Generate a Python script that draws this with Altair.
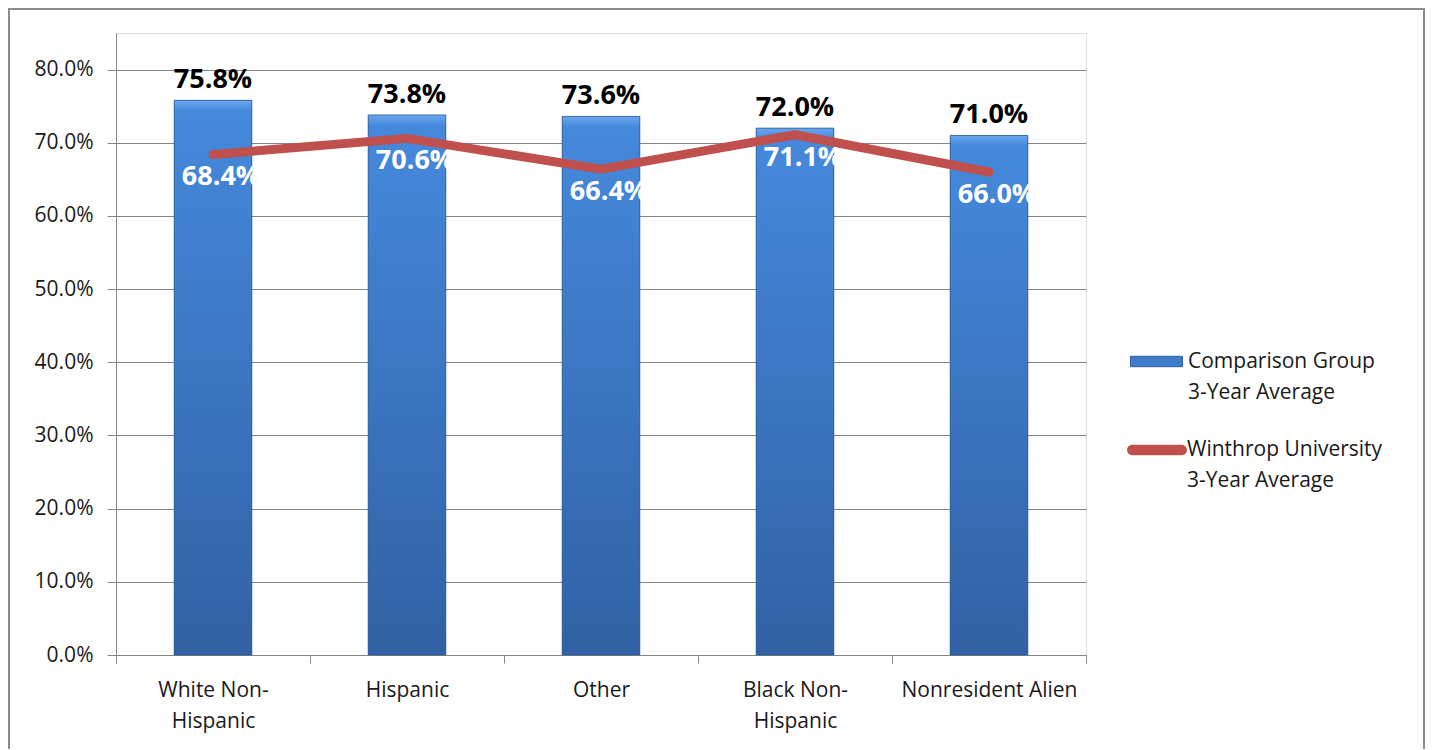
import altair as alt
import pandas as pd

categories = ["White Non-Hispanic", "Hispanic", "Other", "Black Non-Hispanic", "Nonresident Alien"]
comparison = [0.758, 0.738, 0.736, 0.720, 0.710]
winthrop = [0.684, 0.706, 0.664, 0.711, 0.660]
bar_name = "Comparison Group|3-Year Average"
line_name = "Winthrop University|3-Year Average"
y_ticks = [0.0, 0.1, 0.2, 0.3, 0.4, 0.5, 0.6, 0.7, 0.8]

df = pd.DataFrame({"category": categories, "comparison": comparison, "winthrop": winthrop})

FONT = "Open Sans"
GRAY = "#868686"
W, H = 970, 622

x_enc = alt.X(
    "category:N",
    sort=categories,
    title=None,
    scale=alt.Scale(paddingInner=0, paddingOuter=0),
    axis=alt.Axis(
        tickBand="extent",
        labelAngle=0,
        labelFont=FONT,
        labelFontSize=21,
        labelColor="#1a1a1a",
        labelPadding=16,
        labelLineHeight=31,
        labelExpr="split(replace(datum.label, 'Non-', 'Non-\\n'), '\\n')",
        domainColor=GRAY,
        tickColor=GRAY,
        tickSize=8,
        grid=False,
    ),
)

y_scale = alt.Scale(domain=[0, 0.85], nice=False)

base = alt.Chart(df)

bars_legend = base.mark_bar(width=alt.RelativeBandSize(0.4)).encode(
    x=x_enc,
    y=alt.Y(
        "comparison:Q",
        scale=y_scale,
        title=None,
        axis=alt.Axis(
            values=y_ticks,
            format=".1%",
            labelFont=FONT,
            labelFontSize=21,
            labelColor="#1a1a1a",
            labelPadding=14,
            tickSize=9,
            tickColor=GRAY,
            domainColor=GRAY,
            gridColor=GRAY,
            grid=True,
        ),
    ),
    fill=alt.Fill(
        "bar:N",
        scale=alt.Scale(domain=[bar_name], range=["#3F7CCB"]),
        legend=alt.Legend(
            title=None,
            orient="none",
            legendX=1014,
            legendY=302,
            symbolType="M-1,-0.2L1,-0.2L1,0.2L-1,0.2Z",
            symbolSize=2704,
            symbolStrokeColor="#2E5F9E",
            symbolStrokeWidth=1,
            labelFont=FONT,
            labelFontSize=21,
            labelColor="#1a1a1a",
            labelLimit=400,
            labelOffset=5,
            labelExpr="split(datum.label, '|')",
        ),
    ),
).transform_calculate(bar=f"'{bar_name}'")

bars = base.mark_bar(
    width=alt.RelativeBandSize(0.4),
    stroke="#2C5A94",
    strokeWidth=0.8,
    color=alt.Gradient(
        gradient="linear",
        x1=0, x2=0, y1=0, y2=1,
        stops=[
            alt.GradientStop(offset=0, color="#6AA6EE"),
            alt.GradientStop(offset=0.02, color="#4589DC"),
            alt.GradientStop(offset=1, color="#3161A4"),
        ],
    ),
).encode(x=x_enc, y=alt.Y("comparison:Q", scale=y_scale))

line = base.mark_line(strokeWidth=9, strokeCap="round", strokeJoin="round").encode(
    x=x_enc,
    y=alt.Y("winthrop:Q", scale=y_scale),
    stroke=alt.Stroke(
        "ln:N",
        scale=alt.Scale(domain=[line_name], range=["#C0504D"]),
        legend=alt.Legend(
            title=None,
            orient="none",
            legendX=1014,
            legendY=390,
            symbolType=(
                "M-0.92,-0.19L0.92,-0.19A0.19,0.19 0 0 1 0.92,0.19"
                "L-0.92,0.19A0.19,0.19 0 0 1 -0.92,-0.19Z"
            ),
            symbolSize=2916,
            symbolFillColor="#C0504D",
            symbolStrokeWidth=0,
            labelFont=FONT,
            labelFontSize=21,
            labelColor="#1a1a1a",
            labelLimit=400,
            labelOffset=3,
            labelExpr="split(datum.label, '|')",
        ),
    ),
).transform_calculate(ln=f"'{line_name}'")

bar_text = base.mark_text(
    font=FONT, fontSize=27, fontWeight="bold", color="#000000", baseline="bottom", dy=-6
).encode(x=x_enc, y=alt.Y("comparison:Q", scale=y_scale), text=alt.Text("comparison:Q", format=".1%"))

line_text = base.mark_text(
    font=FONT, fontSize=27, fontWeight="bold", color="#FFFFFF", baseline="middle", dy=23, dx=8
).encode(x=x_enc, y=alt.Y("winthrop:Q", scale=y_scale), text=alt.Text("winthrop:Q", format=".1%"))

frame = alt.Chart(pd.DataFrame({"f": [0]})).mark_rect(
    fillOpacity=0, stroke="#8C8C8C", strokeWidth=2
).encode(
    x=alt.value(-107), x2=alt.value(1308), y=alt.value(-24), y2=alt.value(720)
)

chart = alt.layer(frame, bars_legend, bars, line, line_text, bar_text).properties(
    width=W,
    height=H,
    autosize=alt.AutoSizeParams(type="none"),
    padding={"left": 108, "top": 25, "right": 339, "bottom": 94},
).configure_view(stroke=None).configure(
    background="white",
    style={"guide-label": {"lineHeight": 31}},
)

chart.save("out.html", embed_options={"renderer": "svg", "actions": False})
